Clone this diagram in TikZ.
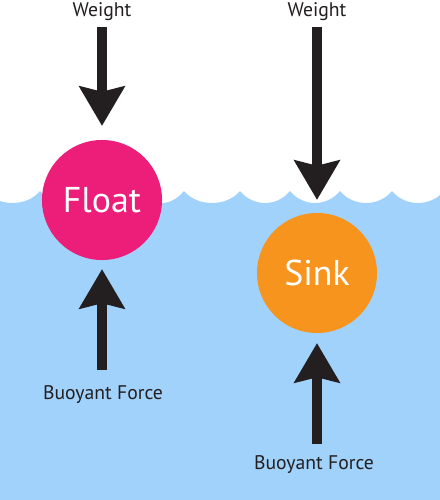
\documentclass[tikz,border=0pt]{standalone}
\usepackage{fontspec}
\setmainfont{PT Sans}
\usetikzlibrary{arrows.meta}
\definecolor{waterblue}{HTML}{A1D2FB}
\definecolor{floatpink}{HTML}{ED1E79}
\definecolor{sinkorange}{HTML}{F7941D}
\definecolor{forceblack}{HTML}{231F20}

\begin{document}
\begin{tikzpicture}[x=0.025cm, y=-0.025cm, font=\fontsize{14}{17}\selectfont]
  \tikzset{ball/.style={circle, fill=#1, minimum size=3cm, inner sep=0pt, text=white, font=\fontsize{25.5}{30}\selectfont},
    force/.style={draw=forceblack, line width=0.25cm, -{Stealth[length=1cm, width=1.175cm, inset=0.15cm, line width=0pt]}},
    forcetext/.style={inner sep=0pt, text=forceblack}}
  \useasboundingbox (0,0) rectangle (440,500);
  \clip (0,0) rectangle (440,500);
  \fill[white] (0,0) rectangle (440,500);
  % water with wavy surface
  \fill[waterblue] (-15,500) -- (-15,191)
    \foreach \a/\b in {-15/40, 40/88, 88/139, 139/184, 184/240, 240/290, 290/340, 340/392, 392/444}
      { .. controls (\a+13,207) and (\b-13,207) .. (\b,191) }
    -- (444,500) -- cycle;
  \node[ball=floatpink] (float) at (102,200) {Float};
  \node[ball=sinkorange] (sink) at (317,273) {Sink};
  \node[forcetext] (wl) at (102,12) {Weight};
  \node[forcetext] (wr) at (317,12) {Weight};
  \node[forcetext] (bl) at (103,395) {Buoyant Force};
  \node[forcetext] (br) at (314,465) {Buoyant Force};
  \draw[force, shorten <=0.15cm, shorten >=0.35cm] (wl.south) -- (float.north);
  \draw[force, shorten <=0.15cm, shorten >=0.325cm] (wr.south) -- (sink.north);
  \draw[force, shorten <=0.4cm, shorten >=0.225cm] (bl.north -| float) -- (float.south);
  \draw[force, shorten <=0.3cm, shorten >=0.25cm] (br.north -| sink) -- (sink.south);
\end{tikzpicture}
\end{document}
